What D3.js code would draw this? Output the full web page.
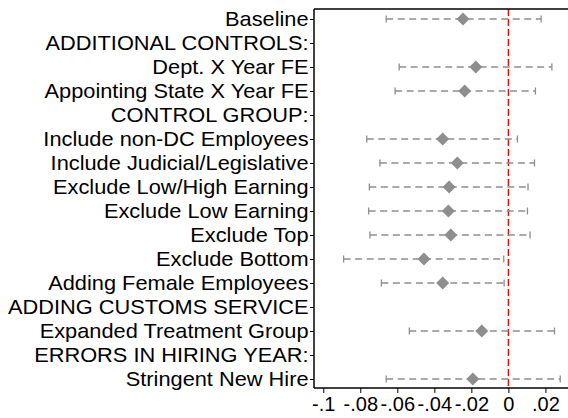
<!DOCTYPE html>
<html>
<head>
  <meta charset="utf-8">
  <style>
    body { margin: 0; background: #fff; }
    text { font-family: "Liberation Sans", Arial, Helvetica, sans-serif; }
  </style>
</head>
<body>
  <script src="https://d3js.org/d3.v7.min.js"></script>
  <script>
    // rows from top to bottom; headers have no estimate
    var labels = [
      "Baseline",
      "ADDITIONAL CONTROLS:",
      "Dept. X Year FE",
      "Appointing State X Year FE",
      "CONTROL GROUP:",
      "Include non-DC Employees",
      "Include Judicial/Legislative",
      "Exclude Low/High Earning",
      "Exclude Low Earning",
      "Exclude Top",
      "Exclude Bottom",
      "Adding Female Employees",
      "ADDING CUSTOMS SERVICE",
      "Expanded Treatment Group",
      "ERRORS IN HIRING YEAR:",
      "Stringent New Hire"
    ];
    var estimates = [-0.0245, null, -0.0176, -0.0236, null, -0.0355, -0.0276, -0.032, -0.0324, -0.0311, -0.0456, -0.0355, null, -0.0144, null, -0.0192];
    var lower = [-0.066, null, -0.059, -0.0612, null, -0.0765, -0.0694, -0.0751, -0.0755, -0.0748, -0.089, -0.0686, null, -0.0535, null, -0.066];
    var upper = [0.0177, null, 0.0235, 0.0146, null, 0.0049, 0.0141, 0.0106, 0.0103, 0.0117, -0.0025, -0.0023, null, 0.0249, null, 0.028];
    var xTicks = [-0.1, -0.08, -0.06, -0.04, -0.02, 0, 0.02];
    var xTickLabels = ["-.1", "-.08", "-.06", "-.04", "-.02", "0", ".02"];

    var width = 568, height = 418;
    var mLeft = 314, mRight = 568, mTop = 9, mBottom = 388;
    var grey = "#8e8e8e";

    var svg = d3.select("body").append("svg")
      .attr("width", width).attr("height", height);

    var x = d3.scaleLinear().domain([-0.105, 0.0322]).range([mLeft, mRight]);
    var y = d3.scalePoint().domain(labels).range([mTop + 10, mBottom - 9]);

    var rows = labels.map(function(l, i) {
      return { label: l, est: estimates[i], lo: lower[i], hi: upper[i] };
    });
    var est = rows.filter(function(d) { return d.est !== null; });

    // zero line
    svg.append("line")
      .attr("x1", x(0)).attr("x2", x(0))
      .attr("y1", mTop).attr("y2", mBottom)
      .attr("stroke", "#ff0000").attr("stroke-width", 1.4)
      .attr("stroke-dasharray", "7,3");

    // CI dashed lines
    svg.selectAll(".ci").data(est).enter().append("line")
      .attr("class", "ci")
      .attr("x1", function(d) { return x(d.lo); })
      .attr("x2", function(d) { return x(d.hi); })
      .attr("y1", function(d) { return y(d.label); })
      .attr("y2", function(d) { return y(d.label); })
      .attr("stroke", grey).attr("stroke-width", 1.5)
      .attr("stroke-dasharray", "7,4.5");

    // caps
    ["lo", "hi"].forEach(function(k) {
      svg.selectAll(".cap-" + k).data(est).enter().append("line")
        .attr("x1", function(d) { return x(d[k]); })
        .attr("x2", function(d) { return x(d[k]); })
        .attr("y1", function(d) { return y(d.label) - 3.5; })
        .attr("y2", function(d) { return y(d.label) + 3.5; })
        .attr("stroke", grey).attr("stroke-width", 1.3);
    });

    // diamonds
    svg.selectAll(".pt").data(est).enter().append("path")
      .attr("transform", function(d) { return "translate(" + x(d.est) + "," + y(d.label) + ")"; })
      .attr("d", "M0,-6.5L6.5,0L0,6.5L-6.5,0Z")
      .attr("fill", grey);

    // frame top
    svg.append("line")
      .attr("x1", mLeft).attr("x2", mRight).attr("y1", mTop).attr("y2", mTop)
      .attr("stroke", "#000").attr("stroke-width", 1.5);

    // y axis
    var yAxis = d3.axisLeft(y).tickSize(4).tickPadding(1).tickSizeOuter(0);
    var gy = svg.append("g").attr("transform", "translate(" + mLeft + ",0)").call(yAxis);
    gy.select(".domain").remove();
    gy.append("line").attr("x1", 0).attr("x2", 0).attr("y1", mTop).attr("y2", mBottom)
      .attr("stroke", "#000").attr("stroke-width", 1.5);
    // the original labels are a bit wider than they are tall
    gy.selectAll(".tick text").attr("font-size", 20).attr("fill", "#000")
      .attr("font-family", "'Liberation Sans', Arial, sans-serif")
      .attr("transform", "scale(1.09,1)");

    // x axis
    var xAxis = d3.axisBottom(x).tickValues(xTicks).tickSize(5).tickPadding(4)
      .tickFormat(function(d, i) { return xTickLabels[i]; })
      .tickSizeOuter(0);
    var gx = svg.append("g").attr("transform", "translate(0," + mBottom + ")").call(xAxis);
    gx.select(".domain").remove();
    gx.append("line").attr("x1", mLeft).attr("x2", mRight).attr("y1", 0).attr("y2", 0)
      .attr("stroke", "#000").attr("stroke-width", 1.5);
    gx.selectAll("text").attr("font-size", 20).attr("fill", "#000")
      .attr("font-family", "'Liberation Sans', Arial, sans-serif");
  </script>
</body>
</html>
